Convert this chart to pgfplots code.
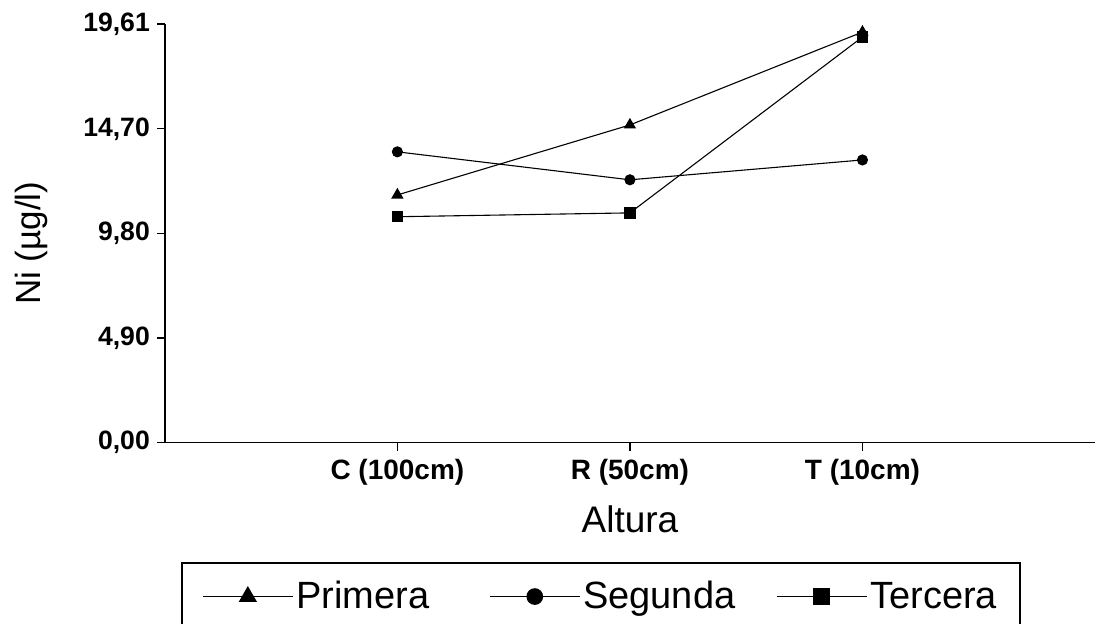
\documentclass[border=0pt]{standalone}
\usepackage{fontspec}
\setmainfont{Liberation Sans}
\usepackage{pgfplots}
\pgfplotsset{compat=1.18}

\begin{document}
\begin{tikzpicture}
\begin{axis}[
  scale only axis,
  width=465.5pt, height=209.5pt,
  xmin=-1, xmax=3, ymin=0, ymax=19.61,
  axis x line*=bottom, axis y line*=left,
  axis line style={-, line width=0.9pt, black},
  xtick={0,1,2},
  xticklabels={C (100cm), R (50cm), T (10cm)},
  ytick={0,4.9,9.8,14.7,19.61},
  yticklabels={{0,00},{4,90},{9,80},{14,70},{19,61}},
  tick align=outside,
  major tick length=4pt,
  tick style={black, line width=0.6pt},
  /pgf/number format/assume math mode=true,
  yticklabel style={font=\bfseries\fontsize{13.3}{15}\selectfont},
  xticklabel style={font=\bfseries\fontsize{14}{16}\selectfont, yshift=-1pt},
  xlabel={Altura},
  ylabel={Ni (µg/l)},
  xlabel style={font=\fontsize{18.5}{20}\selectfont, yshift=-3pt},
  ylabel style={font=\fontsize{17.5}{19}\selectfont, yshift=11pt, xshift=-5pt},
  legend columns=3,
  legend style={
    at={(rel axis cs:0.469,-0.286)}, anchor=north,
    draw=black, line width=1pt,
    font=\fontsize{19}{21}\selectfont,
    inner xsep=10pt, inner ysep=7pt,
    nodes={inner xsep=1.5pt, inner ysep=2pt},
    /tikz/every even column/.append style={column sep=0pt},
  },
  legend cell align=left,
  legend image code/.code={
    \draw[line width=0.6pt, mark repeat=2, mark phase=2,
          every mark/.append style={scale=1.55}]
      plot coordinates {(0pt,0pt) (22.5pt,0pt) (45pt,0pt)};
  },
]
\coordinate (lo) at (rel axis cs:0,0);
\coordinate (hi) at (rel axis cs:1,1);

\addplot[black, line width=0.55pt, mark=triangle*, mark size=3pt]
  coordinates {(0,11.60) (1,14.88) (2,19.23)};
\addlegendentry{\makebox[95pt][l]{Primera}}

\addplot[black, line width=0.55pt, mark=*, mark size=2.5pt]
  coordinates {(0,13.62) (1,12.31) (2,13.24)};
\addlegendentry{\makebox[95pt][l]{Segunda}}

\addplot[black, line width=0.55pt, mark=square*, mark size=2.6pt]
  coordinates {(0,10.58) (1,10.76) (2,19.00)};
\addlegendentry{Tercera}
\end{axis}
\pgfresetboundingbox
\path[use as bounding box]
  ([xshift=-82.5pt, yshift=-90.5pt]lo) rectangle ([xshift=0.5pt, yshift=12pt]hi);
\end{tikzpicture}
\end{document}
